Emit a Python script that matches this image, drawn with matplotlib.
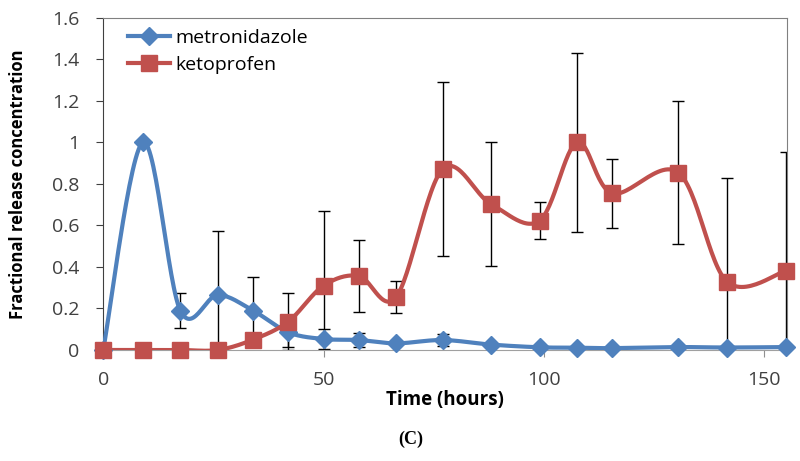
import numpy as np
import matplotlib.pyplot as plt

# data
time = [0, 9, 17.5, 26, 34, 42, 50, 58, 66.5, 77, 88, 99, 107.5, 115.5, 130.5, 141.5, 155]
metro = [0, 1.0, 0.19, 0.265, 0.19, 0.085, 0.053, 0.048, 0.032, 0.048, 0.026, 0.013, 0.011, 0.009, 0.014, 0.012, 0.014]
metro_err = [0, 0, 0.085, 0.31, 0.16, 0.07, 0.05, 0.035, 0.01, 0.03, 0.005, 0.005, 0.005, 0.005, 0.005, 0.005, 0.005]
keto = [0, 0, 0, 0, 0.05, 0.137, 0.31, 0.357, 0.256, 0.871, 0.703, 0.623, 1.0, 0.755, 0.855, 0.33, 0.382]
keto_err = [0, 0, 0, 0, 0, 0.136, 0.36, 0.173, 0.077, 0.42, 0.297, 0.088, 0.433, 0.167, 0.345, 0.5, 0.574]

blue = '#4F81BD'
red = '#C0504D'
font = 'Open Sans'


def smooth(x, y, n=30):
    # Excel style smoothed line (bezier, catmull-rom control points)
    p = np.column_stack([x, y]).astype(float)
    pts = []
    for i in range(len(p) - 1):
        p0 = p[i - 1] if i > 0 else p[i]
        p1 = p[i]
        p2 = p[i + 1]
        p3 = p[i + 2] if i + 2 < len(p) else p[i + 1]
        c1 = p1 + (p2 - p0) / 6
        c2 = p2 - (p3 - p1) / 6
        t = np.linspace(0, 1, n)[:, None]
        seg = (1 - t) ** 3 * p1 + 3 * (1 - t) ** 2 * t * c1 + 3 * (1 - t) * t ** 2 * c2 + t ** 3 * p2
        pts.append(seg)
    pts = np.vstack(pts)
    return pts[:, 0], pts[:, 1]


fig = plt.figure(figsize=(8, 4.61), dpi=100)
ax = fig.add_axes([0.129, 0.2408, 0.855, 0.7202])

for x, y, err, c, m, ms, lab in [(time, metro, metro_err, blue, 'D', 9, 'metronidazole'),
                                 (time, keto, keto_err, red, 's', 11.5, 'ketoprofen')]:
    ax.errorbar(x, y, yerr=err, fmt='none', ecolor='black', elinewidth=1, capsize=4, capthick=1, zorder=2)
    sx, sy = smooth(x, y)
    ax.plot(sx, sy, color=c, lw=3, zorder=3, solid_capstyle='round')
    ax.plot(x, y, ls='none', marker=m, ms=ms, color=c, zorder=4, clip_on=False)
    ax.plot([], [], color=c, lw=3, marker=m, ms=ms, label=lab)

ax.set_xlim(0, 155.2)
ax.set_ylim(0, 1.6)
ax.set_xticks([0, 50, 100, 150])
ax.set_yticks(np.arange(0, 1.61, 0.2))
ax.set_yticklabels(['0', '0.2', '0.4', '0.6', '0.8', '1', '1.2', '1.4', '1.6'])

for lbl in ax.get_xticklabels() + ax.get_yticklabels():
    lbl.set_family(font)
    lbl.set_fontsize(14)
    lbl.set_color('#404040')

ax.tick_params(axis='y', direction='out', length=5, color='#404040', pad=12)
ax.tick_params(axis='x', direction='out', length=5, color='#909090', pad=10)
ax.spines['left'].set_color('#404040')
ax.spines['bottom'].set_color('#a0a0a0')
ax.spines['top'].set_color('#808080')
ax.spines['right'].set_color('#808080')

ax.set_xlabel('Time (hours)', family=font, fontweight='bold', fontsize=13.5)
ax.xaxis.set_label_coords(0.5, -0.12)
ax.set_ylabel('Fractional release concentration', family=font, fontweight='bold', fontsize=12)
ax.yaxis.set_label_coords(-0.112, 0.5)

leg = ax.legend(loc='upper left', frameon=False, prop={'family': font, 'size': 14},
                handlelength=2.2, handletextpad=0.25, labelspacing=0.45,
                bbox_to_anchor=(0.01, 1.02))

fig.text(0.513, 0.047, '(C)', family='Liberation Serif', fontweight='bold', fontsize=13, ha='center', va='center')

fig.savefig('out.png', dpi=100)
